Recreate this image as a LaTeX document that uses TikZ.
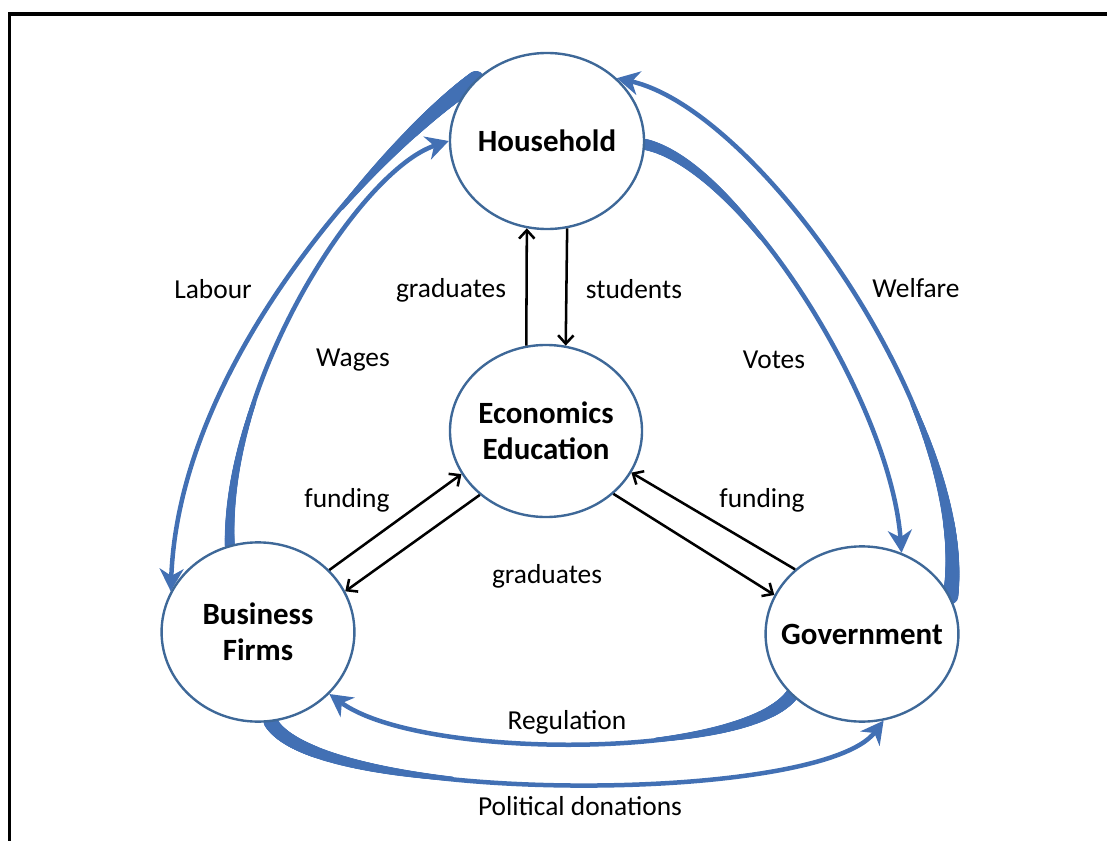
\documentclass[tikz,border=0pt]{standalone}
\usepackage{fontspec}
\setmainfont{Carlito}
\usepackage{tikz}
\usetikzlibrary{positioning}
\usetikzlibrary{shapes.geometric}
\usetikzlibrary{arrows.meta}
\usetikzlibrary{decorations.markings}
\usetikzlibrary{backgrounds}
\definecolor{ringblue}{RGB}{62,104,152}
\definecolor{flowblue}{RGB}{66,112,180}

\begin{document}
\begin{tikzpicture}[x=0.025cm, y=-0.025cm,
    sector/.style = {ellipse, draw=ringblue, line width=1.7pt, fill=white, align=center,
      inner xsep=-15pt, inner ysep=0pt, font=\fontsize{22}{25.6}\selectfont\bfseries},
    lbl/.style = {font=\fontsize{19.5}{23}\selectfont, inner sep=0pt},
    link/.style = {line width=1.8pt, -{Straight Barb[length=6pt,width=11pt,line width=1.8pt]}},
    flow/.style = {draw=flowblue, line width=3.2pt, -{Stealth[length=16pt,width=17pt,inset=5pt]},
      postaction={decorate, decoration={markings,
        mark=between positions 0 and 0.3 step 0.6pt with {
          \pgfmathsetmacro\tailr{1.6+(#1-1.6)*(1-\pgfkeysvalueof{/pgf/decoration/mark info/distance from start}/(0.3*\pgfdecoratedpathlength))}
          \fill[flowblue] (0,0) circle[radius=\tailr pt];}}}}
    ]
    \useasboundingbox (0,0) rectangle (1107,841);
    \draw[line width=2.8pt] (1107,14) -- (9.5,14) -- (9.5,841);

    \node[sector, minimum width=4.85cm, minimum height=4.4cm] (house) at (547,141) {Household};
    \node[sector, minimum width=4.8cm, minimum height=4.3cm] (econ) at (546,431) {Economics\\Education};
    \node[sector, minimum width=4.82cm, minimum height=4.48cm] (firm) at (258,632) {Business\\Firms};
    \node[sector, minimum width=4.82cm, minimum height=4.38cm] (gov) at (862,634) {Government};

    \node[lbl] (labour) at (213,289) {Labour};
    \node[lbl] (grad1) at (451,290) {graduates};
    \node[lbl] (students) at (634,289) {students};
    \node[lbl] (welfare) at (916,288) {Welfare};
    \node[lbl] (wages) at (353,360) {Wages};
    \node[lbl] (votes) at (774,360) {Votes};
    \node[lbl] (fund1) at (347,500) {funding};
    \node[lbl] (fund2) at (762,500) {funding};
    \node[lbl] (grad2) at (547,576) {graduates};
    \node[lbl] (regulation) at (567,722) {Regulation};
    \node[lbl] (donations) at (580,806) {Political donations};

    \draw[link] (econ.103) -- (house.257);
    \draw[link] (house.283) -- (econ.77);
    \draw[link] (firm.41) -- (econ.207);
    \draw[link] (econ.224) -- (firm.25);
    \draw[link] (gov.136) -- (econ.334);
    \draw[link] (econ.317) -- (gov.156);

    \begin{scope}[on background layer]
    \draw[flow=6] (house.139) .. controls (400,130) and (180,350) .. (firm.155);
    \draw[flow=3.6] (firm.108) .. controls (225,380) and (360,170) .. (house.180);
    \draw[flow=5.5] (gov.23) .. controls (975,420) and (760,110) .. (house.42);
    \draw[flow=4] (house.358) .. controls (740,165) and (890,400) .. (gov.64);
    \draw[flow=4.6] (gov.221) .. controls (740,760) and (420,760) .. (firm.319);
    \draw[flow=5] (firm.278) .. controls (320,805) and (820,805) .. (gov.284);
    \end{scope}
\end{tikzpicture}
\end{document}
